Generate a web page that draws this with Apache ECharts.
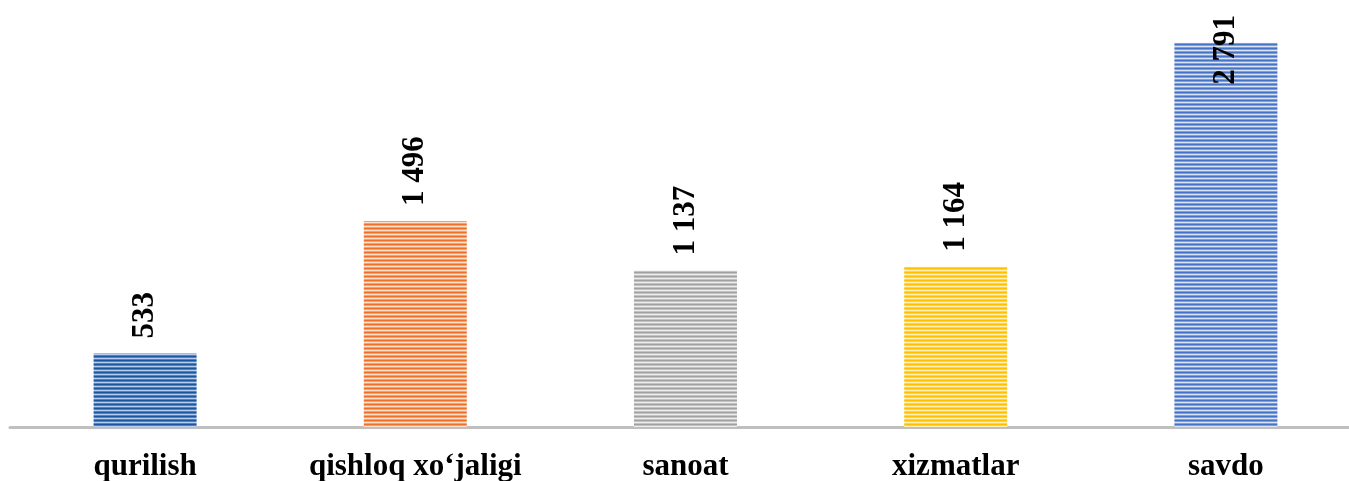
<!DOCTYPE html>
<html><head><meta charset="utf-8">
<script src="https://cdn.jsdelivr.net/npm/echarts@6/dist/echarts.min.js"></script>
<style>html,body{margin:0;padding:0;background:#fff}#c{width:1349px;height:481px}</style>
</head><body><div id="c"></div>
<script>
const categories = ['qurilish', 'qishloq xo\u2018jaligi', 'sanoat', 'xizmatlar', 'savdo'];
const values = [533, 1496, 1137, 1164, 2791];
const valueLabels = ['533', '1 496', '1 137', '1 164', '2 791'];

const palettes = [
  ['#1d559c', '#4f84c6', '#b4cdef'],
  ['#ed7128', '#f4a070', '#fde0cc'],
  ['#a0a0a0', '#c4c4c4', '#ececec'],
  ['#ffbf00', '#ffd34d', '#fff0b8'],
  ['#4472c4', '#7f9fd8', '#dbe4f6']
];
function stripe(p) {
  const c = document.createElement('canvas');
  c.width = 4; c.height = 4;
  const g = c.getContext('2d');
  const rows = [p[0], p[1], p[2], p[1]];
  rows.forEach((col, i) => { g.fillStyle = col; g.fillRect(0, i, 4, 1); });
  return { image: c, repeat: 'repeat' };
}

const chart = echarts.init(document.getElementById('c'));
chart.setOption({
  animation: false,
  grid: { left: 10, right: -12, top: 14, bottom: 54, containLabel: false, outerBoundsMode: 'none' },
  xAxis: {
    type: 'category', data: categories,
    axisLine: { lineStyle: { color: '#bfbfbf', width: 3 } },
    axisTick: { show: false },
    axisLabel: { interval: 0, hideOverlap: false, color: '#000', fontFamily: 'Liberation Serif', fontWeight: 'bold', fontSize: 31, margin: 24 }
  },
  yAxis: { type: 'value', min: 0, max: 3000, show: false, splitLine: { show: false } },
  series: [{
    type: 'bar', barWidth: 103,
    data: values.map((v, i) => ({
      value: v,
      itemStyle: { color: stripe(palettes[i]) },
      label: i === 4 ? { distance: -42 } : {}
    })),
    label: {
      show: true, position: 'top', distance: 15, rotate: 90,
      align: 'left', verticalAlign: 'middle',
      color: '#000', fontFamily: 'Liberation Serif', fontWeight: 'bold', fontSize: 31,
      formatter: p => valueLabels[p.dataIndex]
    }
  }]
});
</script></body></html>
